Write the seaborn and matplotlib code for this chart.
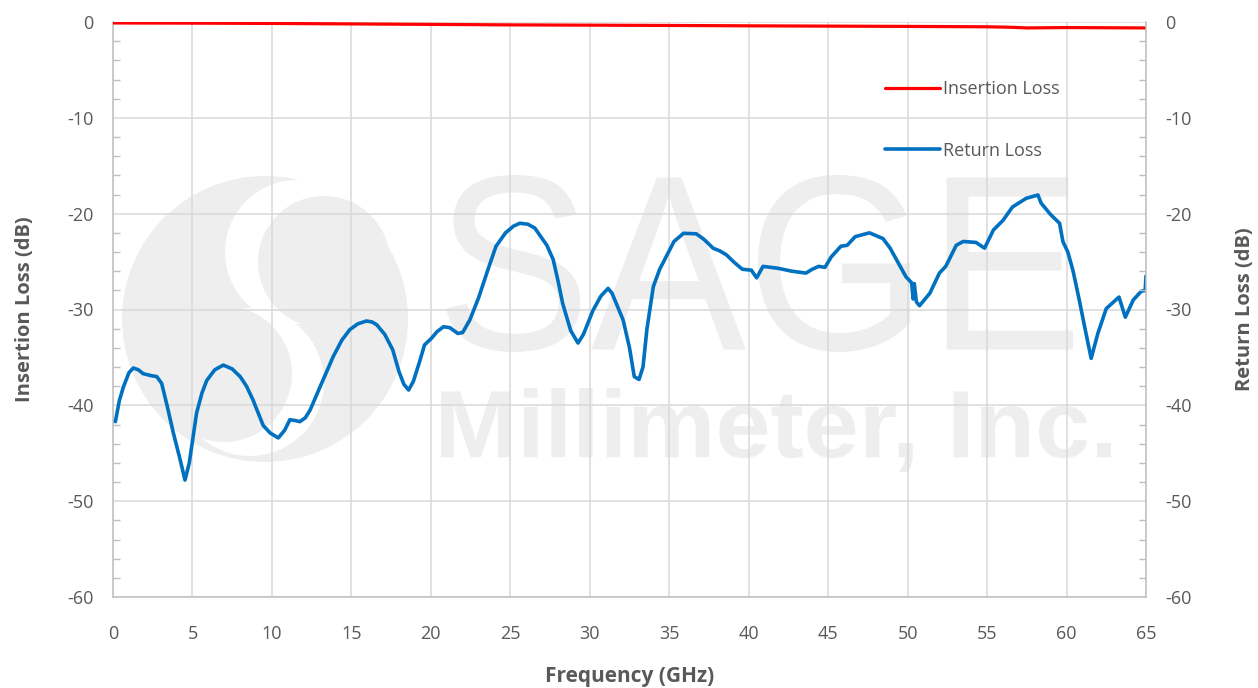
import numpy as np
import pandas as pd
import matplotlib
matplotlib.use("Agg")
import matplotlib.pyplot as plt
import seaborn as sns
from matplotlib.ticker import MultipleLocator
from matplotlib.patches import Circle, PathPatch
from matplotlib.textpath import TextPath
from matplotlib.font_manager import FontProperties
from matplotlib.transforms import Affine2D, IdentityTransform

# Data
il_freq = [0, 5, 10, 15, 20, 25, 30, 35, 40, 45, 50, 55, 56.5, 57.5, 60, 65]
il_db = [-0.1, -0.12, -0.15, -0.2, -0.25, -0.3, -0.33, -0.36, -0.4, -0.43, -0.46, -0.5, -0.55, -0.62, -0.58, -0.62]

rl_freq = [0.15, 0.4, 0.65, 1.0, 1.28, 1.6, 1.9, 2.4, 2.75, 3.06, 3.4, 3.8, 4.2, 4.53, 4.8,
           5.26, 5.6, 5.9, 6.4, 6.94, 7.5, 8.0, 8.4, 8.8, 9.45, 9.9, 10.4, 10.8, 11.13, 11.5,
           11.76, 12.1, 12.4, 13.1, 13.86, 14.4, 14.9, 15.4, 15.95, 16.3, 16.6, 17.1, 17.6, 18.0,
           18.3, 18.6, 18.9, 19.3, 19.6, 20.04, 20.4, 20.8, 21.2, 21.7, 22.0, 22.45, 23.0, 23.6,
           24.1, 24.7, 25.2, 25.6, 26.1, 26.54, 27.0, 27.3, 27.7, 28.0, 28.3, 28.8, 29.26, 29.6,
           30.2, 30.7, 31.15, 31.4, 31.7, 32.1, 32.5, 32.8, 33.1, 33.35, 33.6, 34.0, 34.4, 34.8,
           35.3, 35.9, 36.7, 37.2, 37.76, 38.2, 38.6, 39.1, 39.6, 40.17, 40.5, 40.9, 41.85, 42.7,
           43.6, 44.0, 44.4, 44.8, 45.2, 45.8, 46.2, 46.7, 47.6, 48.45, 48.9, 49.3, 49.9, 50.25,
           50.35, 50.42, 50.55, 50.75, 51.4, 52.0, 52.4, 53.06, 53.5, 54.3, 54.84, 55.4, 56.0,
           56.6, 57.46, 58.2, 58.4, 59.0, 59.56, 59.77, 60.08, 60.4, 60.8, 61.2, 61.55, 61.97,
           62.5, 63.3, 63.7, 64.2, 64.7, 64.95, 65.0]
rl_db = [-41.7, -39.5, -38.1, -36.6, -36.1, -36.3, -36.7, -36.9, -37.0, -37.7, -40.0, -42.9, -45.5, -47.8, -46.0,
         -40.8, -38.7, -37.4, -36.3, -35.8, -36.2, -37.0, -38.0, -39.4, -42.1, -42.9, -43.4, -42.6, -41.5, -41.6,
         -41.7, -41.3, -40.5, -37.8, -34.9, -33.2, -32.1, -31.5, -31.2, -31.3, -31.6, -32.6, -34.2, -36.5,
         -37.8, -38.4, -37.5, -35.4, -33.7, -33.0, -32.3, -31.8, -31.9, -32.5, -32.4, -31.1, -28.8, -25.8,
         -23.4, -22.0, -21.3, -21.0, -21.1, -21.5, -22.6, -23.3, -24.8, -27.0, -29.4, -32.2, -33.5, -32.6,
         -30.1, -28.6, -27.8, -28.3, -29.5, -31.1, -34.0, -37.0, -37.3, -36.0, -32.0, -27.6, -25.8, -24.5,
         -22.9, -22.05, -22.1, -22.7, -23.6, -23.9, -24.3, -25.1, -25.8, -25.9, -26.7, -25.5, -25.7, -26.0,
         -26.2, -25.8, -25.5, -25.6, -24.5, -23.4, -23.3, -22.4, -22.0, -22.6, -23.6, -24.8, -26.6, -27.2,
         -28.9, -27.3, -29.2, -29.6, -28.3, -26.2, -25.5, -23.3, -22.9, -23.0, -23.6, -21.7, -20.7,
         -19.3, -18.4, -18.05, -18.9, -20.1, -21.0, -22.9, -24.0, -25.9, -29.0, -32.3, -35.1, -32.5,
         -29.9, -28.7, -30.8, -29.0, -28.1, -28.0, -26.5]

il_df = pd.DataFrame({"freq": il_freq, "db": il_db})
rl_df = pd.DataFrame({"freq": rl_freq, "db": rl_db})

sns.set_style("white")
plt.rcParams["font.family"] = ["Open Sans", "DejaVu Sans"]
plt.rcParams["axes.unicode_minus"] = False

text_color = "#595959"
grid_color = "#d9d9d9"
W, H = 1258, 688

fig = plt.figure(figsize=(W / 100, H / 100), dpi=100)
ax = fig.add_axes([113 / W, 1 - 597 / H, 1033 / W, 575 / H])
ax.set_zorder(1)
ax.patch.set_alpha(0)

# --- faint company watermark behind the plot (pixel coords, top-left origin) ---
wm = "#eeeeee"


def px_circle(cx, cy, r, color):
    fig.patches.append(Circle((cx, H - cy), r, transform=IdentityTransform(),
                              facecolor=color, edgecolor="none", zorder=0))


def px_text(s, x0, x1, y0, y1, family="Liberation Sans", weight="normal"):
    tp = TextPath((0, 0), s, size=100, prop=FontProperties(family=family, weight=weight))
    bb = tp.get_extents()
    tr = Affine2D().translate(-bb.x0, -bb.y0).scale((x1 - x0) / bb.width, (y1 - y0) / bb.height)
    tr = tr.translate(x0, H - y1)
    fig.patches.append(PathPatch(tp, transform=tr, facecolor=wm, edgecolor="none", zorder=0))


px_circle(265, 319, 143, wm)
px_circle(297, 252, 72, "white")
px_circle(324, 262, 66, wm)
px_circle(250, 382, 74, "white")
px_circle(224, 374, 68, wm)
px_text("SAGE", 446, 1073, 175, 352)
px_text("Millimeter, Inc.", 441, 1111, 388, 472, weight="bold")

sns.lineplot(data=rl_df, x="freq", y="db", ax=ax, color="#0070c0", linewidth=2.6,
             label="Return Loss", zorder=3, sort=False)
sns.lineplot(data=il_df, x="freq", y="db", ax=ax, color="#ff0000", linewidth=2.3,
             label="Insertion Loss", zorder=4)

ax.set_xlim(0, 65)
ax.set_ylim(-60, 0)
ax.xaxis.set_major_locator(MultipleLocator(5))
ax.xaxis.set_minor_locator(MultipleLocator(1))
ax.yaxis.set_major_locator(MultipleLocator(10))
ax.yaxis.set_minor_locator(MultipleLocator(2))
ax.grid(True, which="major", color=grid_color, linewidth=1.1)
ax.tick_params(which="major", length=0, labelsize=13, labelcolor=text_color, pad=14)
ax.tick_params(which="minor", direction="in", length=5, color="#bfbfbf", width=1)
ax.tick_params(axis="x", pad=20)
for s in ["left", "bottom"]:
    ax.spines[s].set_color("#bfbfbf")
    ax.spines[s].set_linewidth(1.1)
for s in ["top", "right"]:
    ax.spines[s].set_visible(False)

ax.set_xlabel("Frequency (GHz)", fontsize=15, fontweight="bold", color=text_color, labelpad=17)
ax.set_ylabel("Insertion Loss (dB)", fontsize=14.5, fontweight="bold", color=text_color, labelpad=23)

ax2 = ax.twinx()
ax2.set_ylim(-60, 0)
ax2.yaxis.set_major_locator(MultipleLocator(10))
ax2.yaxis.set_minor_locator(MultipleLocator(2))
ax2.tick_params(which="major", length=0, labelsize=13, labelcolor=text_color, pad=14)
ax2.tick_params(which="minor", direction="in", length=5, color="#bfbfbf", width=1)
for s in ["left", "top", "bottom"]:
    ax2.spines[s].set_visible(False)
ax2.spines["right"].set_color("#bfbfbf")
ax2.spines["right"].set_linewidth(1.1)
ax2.set_ylabel("Return Loss (dB)", fontsize=14.5, fontweight="bold", color=text_color, labelpad=31)

handles, labels = ax.get_legend_handles_labels()
order = [labels.index("Insertion Loss"), labels.index("Return Loss")]
ax.legend([handles[i] for i in order], [labels[i] for i in order], loc="upper left",
          bbox_to_anchor=(0.732, 0.927), frameon=False, fontsize=13, labelcolor=text_color,
          handlelength=3.0, handletextpad=0.2, labelspacing=2.4)

fig.savefig("out.png", dpi=100)
plt.close(fig)
